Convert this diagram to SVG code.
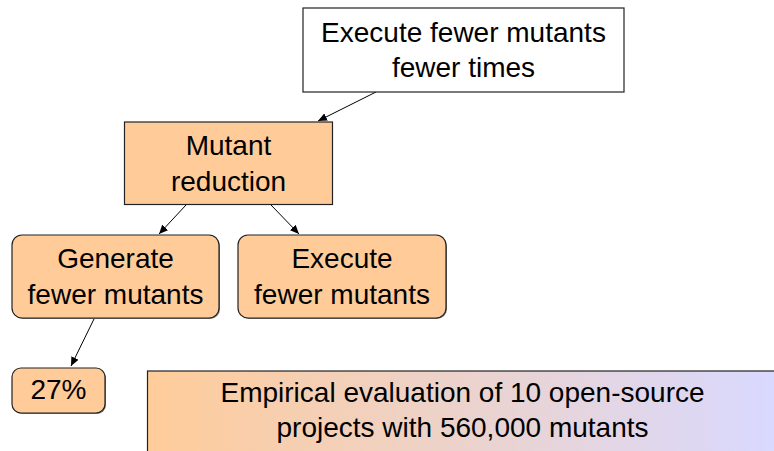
<svg xmlns="http://www.w3.org/2000/svg" width="774" height="451" viewBox="0 0 774 451">
<defs>
<marker id="ah" markerWidth="10" markerHeight="8" refX="9" refY="4" orient="auto" markerUnits="userSpaceOnUse">
<path d="M0,0 L9,4 L0,8 Z" fill="#000"/>
</marker>
<linearGradient id="grad" x1="147" y1="0" x2="774" y2="0" gradientUnits="userSpaceOnUse">
<stop offset="0" stop-color="#ffcc99"/>
<stop offset="1" stop-color="#d9d9ff"/>
</linearGradient>
</defs>
<style>
text { font-family: "Liberation Sans", Arial, sans-serif; font-size: 28px; fill: #000; text-anchor: middle; }
.box { stroke: #222; stroke-width: 1.2; }
.orange { fill: #ffcc99; }
.white { fill: #fff; }
.edge { stroke: #000; stroke-width: 1; fill: none; marker-end: url(#ah); }
</style>
<g id="connectors">
<path class="edge" d="M376,92 L318,121"/>
<path class="edge" d="M186,205 L159,234"/>
<path class="edge" d="M271,205 L299,234"/>
<path class="edge" d="M94,319 L71,366"/>
</g>
<g id="node-top">
<rect class="box white" x="303" y="8" width="321" height="84"/>
<text x="463.5" y="42">Execute fewer mutants</text>
<text x="463.5" y="77">fewer times</text>
</g>
<g id="node-reduction">
<rect class="box orange" x="124.5" y="122" width="208" height="82.5"/>
<text x="228.5" y="155">Mutant</text>
<text x="228.5" y="191">reduction</text>
</g>
<g id="node-generate">
<rect x="13" y="236" width="207" height="83" rx="10" fill="#777"/>
<rect class="box orange" x="12" y="235" width="207" height="83" rx="10"/>
<text x="115.5" y="268">Generate</text>
<text x="115.5" y="304">fewer mutants</text>
</g>
<g id="node-execute">
<rect x="239" y="236" width="208" height="83" rx="10" fill="#777"/>
<rect class="box orange" x="238" y="235" width="208" height="83" rx="10"/>
<text x="342" y="268">Execute</text>
<text x="342" y="304">fewer mutants</text>
</g>
<g id="node-27">
<rect x="13" y="369" width="93" height="45" rx="9" fill="#777"/>
<rect class="box orange" x="12" y="368" width="93" height="45" rx="9"/>
<text x="58.5" y="399">27%</text>
</g>
<g id="node-evaluation">
<rect x="147.5" y="371" width="640" height="90" fill="url(#grad)" stroke="#222" stroke-width="1.2"/>
<text x="462.5" y="402">Empirical evaluation of 10 open-source</text>
<text x="462.5" y="437">projects with 560,000 mutants</text>
</g>
</svg>
